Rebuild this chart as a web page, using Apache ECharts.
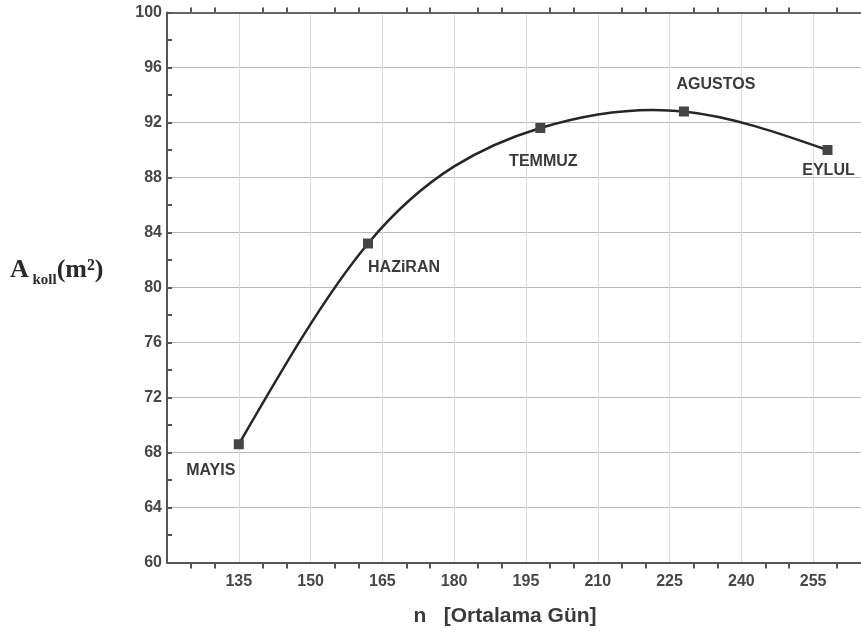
<!DOCTYPE html>
<html>
<head>
<meta charset="utf-8">
<script src="https://cdn.jsdelivr.net/npm/echarts@6/dist/echarts.min.js"></script>
<style>html,body{margin:0;padding:0;background:#fff;}#c{width:861px;height:638px;}</style>
</head>
<body>
<div id="c"></div>
<script>
// Data
const days = [135, 162, 198, 228, 258];            // n [Ortalama Gün]
const areas = [68.6, 83.2, 91.6, 92.8, 90.0];       // A koll (m²)
const months = ['MAYIS', 'HAZiRAN', 'TEMMUZ', 'AGUSTOS', 'EYLUL'];
const labelOffsets = [[-28, 26], [36, 24], [3, 34], [32, -27], [1, 21]];

const chart = echarts.init(document.getElementById('c'));
const axisColor = '#555';
const tickFont = { fontFamily: 'Liberation Sans, Arial, sans-serif', fontSize: 16, fontWeight: 'bold', color: '#474747' };

const pairs = days.map((d, i) => [d, areas[i]]);

const seriesData = pairs.map((p, i) => ({
  value: p,
  label: {
    show: true,
    formatter: months[i],
    position: 'inside',
    offset: labelOffsets[i],
    align: 'center',
    verticalAlign: 'middle',
    fontFamily: 'Liberation Sans, Arial, sans-serif',
    fontSize: 16,
    fontWeight: 'bold',
    color: '#3a3a3a'
  }
}));

// natural cubic spline through the points (in pixel space), emitted as Bezier path
function splinePath(pts) {
  const n = pts.length;
  const h = [], d = [];
  for (let i = 0; i < n - 1; i++) {
    h[i] = pts[i + 1][0] - pts[i][0];
    d[i] = (pts[i + 1][1] - pts[i][1]) / h[i];
  }
  const M = new Array(n).fill(0);
  const a = [], b = [], c = [], r = [];
  for (let i = 1; i < n - 1; i++) {
    a[i] = h[i - 1]; b[i] = 2 * (h[i - 1] + h[i]); c[i] = h[i]; r[i] = 6 * (d[i] - d[i - 1]);
  }
  for (let i = 2; i < n - 1; i++) {
    const w = a[i] / b[i - 1];
    b[i] -= w * c[i - 1];
    r[i] -= w * r[i - 1];
  }
  for (let i = n - 2; i >= 1; i--) {
    M[i] = (r[i] - c[i] * M[i + 1]) / b[i];
  }
  const m = [];
  for (let i = 0; i < n - 1; i++) m[i] = d[i] - h[i] * (2 * M[i] + M[i + 1]) / 6;
  m[n - 1] = d[n - 2] + h[n - 2] * (M[n - 2] + 2 * M[n - 1]) / 6;
  let path = 'M' + pts[0][0] + ' ' + pts[0][1];
  for (let i = 0; i < n - 1; i++) {
    const x0 = pts[i][0], y0 = pts[i][1], x1 = pts[i + 1][0], y1 = pts[i + 1][1];
    const k = h[i] / 3;
    path += ' C' + (x0 + k) + ' ' + (y0 + m[i] * k) + ' ' + (x1 - k) + ' ' + (y1 - m[i + 1] * k) + ' ' + x1 + ' ' + y1;
  }
  return path;
}

chart.setOption({
  backgroundColor: '#fff',
  animation: false,
  grid: { left: 167, right: -2, top: 12.5, bottom: 75.5, containLabel: false },
  xAxis: [{
    type: 'value', min: 120, max: 265, interval: 15, position: 'bottom',
    name: 'n   [Ortalama Gün]', nameLocation: 'middle', nameGap: 43,
    nameTextStyle: { fontFamily: 'Liberation Sans, Arial, sans-serif', fontSize: 21, fontWeight: 'bold', color: '#3a3a3a', padding: [0, 18, 0, 0] },
    axisLine: { show: true, lineStyle: { color: axisColor, width: 2 } },
    axisTick: { show: false },
    minorTick: { show: true, splitNumber: 3, length: 6, lineStyle: { color: axisColor, width: 2 } },
    axisLabel: Object.assign({ margin: 11, showMinLabel: false, showMaxLabel: false }, tickFont),
    splitLine: { show: true, lineStyle: { color: '#dcdcdc', width: 1 } },
    minorSplitLine: { show: false }
  }, {
    type: 'value', min: 120, max: 265, interval: 15, position: 'top',
    axisLine: { show: true, lineStyle: { color: '#666', width: 2 } },
    axisTick: { show: false },
    minorTick: { show: true, splitNumber: 3, length: 5, lineStyle: { color: axisColor, width: 2 } },
    axisLabel: { show: false },
    splitLine: { show: false }
  }],
  yAxis: [{
    type: 'value', min: 60, max: 100, interval: 4, position: 'left',
    axisLine: { show: true, lineStyle: { color: axisColor, width: 2 } },
    axisTick: { show: true, inside: true, length: 5, lineStyle: { color: axisColor, width: 2 } },
    minorTick: { show: true, splitNumber: 2, length: 5, lineStyle: { color: axisColor, width: 2 } },
    axisLabel: Object.assign({ margin: 5 }, tickFont),
    splitLine: { show: true, lineStyle: { color: '#b8b8b8', width: 1 } }
  }, {
    type: 'value', min: 60, max: 100, interval: 4, position: 'right',
    axisLine: { show: false },
    axisTick: { show: false },
    minorTick: { show: true, splitNumber: 2, length: 5, lineStyle: { color: axisColor, width: 2 } },
    axisLabel: { show: false },
    splitLine: { show: false }
  }],
  graphic: [{
    type: 'text', left: 10, top: 257,
    style: {
      text: '{a|A}{s| koll}{a|(m²)}',
      rich: {
        a: { fontFamily: 'Liberation Serif, Times New Roman, serif', fontSize: 26, fontWeight: 'bold', fill: '#2a2a2a', verticalAlign: 'bottom' },
        s: { fontFamily: 'Liberation Serif, Times New Roman, serif', fontSize: 15, fontWeight: 'bold', fill: '#2a2a2a', verticalAlign: 'bottom', padding: [0, 0, -5, 0] }
      }
    }
  }],
  series: [{
    type: 'custom',
    data: pairs,
    encode: { x: 0, y: 1 },
    z: 4,
    renderItem: function (params, api) {
      if (params.dataIndex !== 0) return null;
      const pts = pairs.map(p => api.coord(p));
      return {
        type: 'path',
        shape: { pathData: splinePath(pts) },
        style: { stroke: '#262626', lineWidth: 2.5, fill: null }
      };
    }
  }, {
    type: 'scatter',
    data: seriesData,
    symbol: 'rect',
    symbolSize: 10,
    itemStyle: { color: '#454545', opacity: 1 },
    z: 5
  }]
});
</script>
</body>
</html>
